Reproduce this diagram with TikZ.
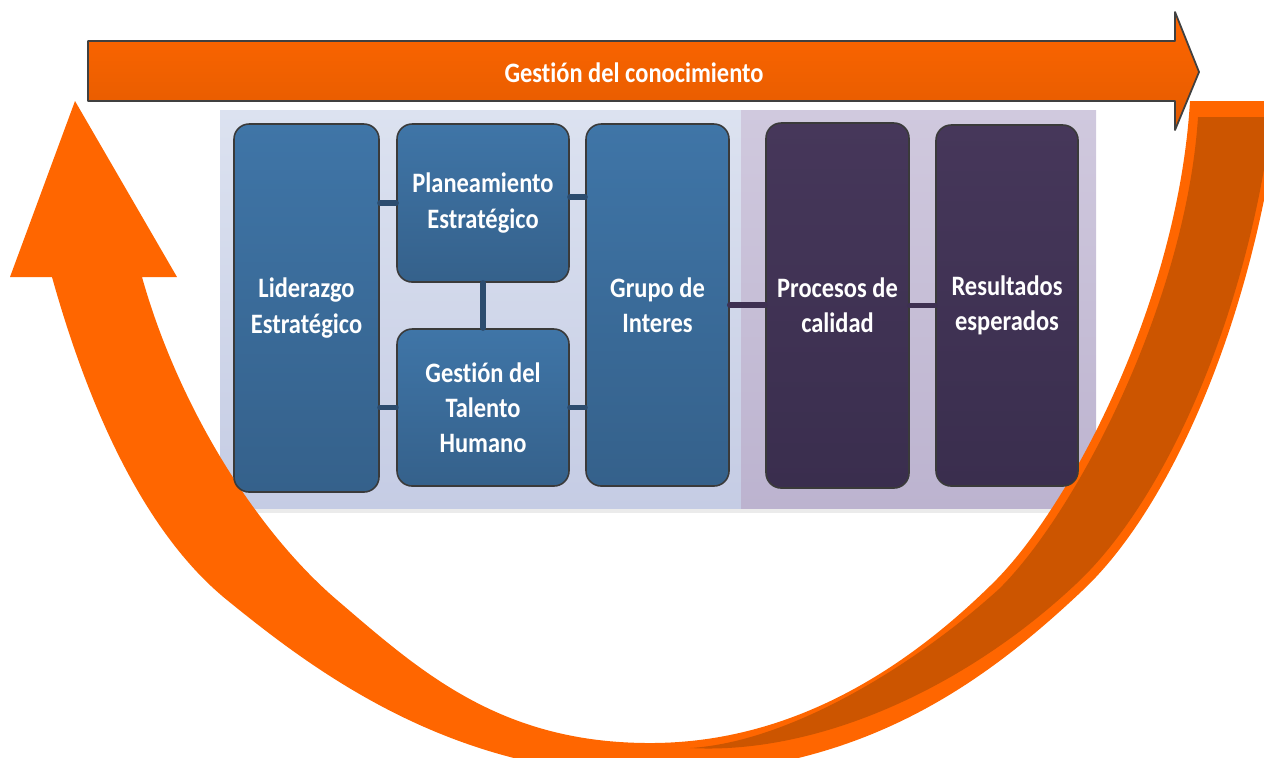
\documentclass[tikz,border=0pt]{standalone}
\usepackage{fontspec}
\setmainfont{Carlito}[FakeStretch=0.87,RawFeature={-liga;-clig;-dlig;-calt}]
\definecolor{bandorange}{HTML}{FF6600}
\definecolor{banddark}{HTML}{CC5500}
\definecolor{arrowtop}{HTML}{FF6600}
\definecolor{arrowbot}{HTML}{E35B00}
\definecolor{arrowline}{HTML}{404040}
\definecolor{paneltop}{HTML}{DCE2F0}
\definecolor{panelbot}{HTML}{C5CCE4}
\definecolor{lavtop}{HTML}{D0C9DE}
\definecolor{lavbot}{HTML}{BCB3CF}
\definecolor{bluetop}{HTML}{3F75A7}
\definecolor{bluebot}{HTML}{35618B}
\definecolor{purptop}{HTML}{46375A}
\definecolor{purpbot}{HTML}{3A2E4E}
\definecolor{boxline}{HTML}{3A3A3A}
\definecolor{linkblue}{HTML}{2C4C6E}
\definecolor{linkpurple}{HTML}{3E3052}
\begin{document}
\begin{tikzpicture}[x=0.1mm,y=-0.1mm,line join=round,line cap=round,
    boxtext/.style={text=white,font=\bfseries\fontsize{8}{10}\selectfont,align=center},
    bluebox/.style={boxtext,draw=boxline,line width=0.45pt,rounded corners=4.3pt,
        top color=bluetop,bottom color=bluebot,inner sep=0pt},
    purplebox/.style={bluebox,top color=purptop,bottom color=purpbot},
    bluelink/.style={draw=linkblue,line width=1.5pt},
    purplelink/.style={draw=linkpurple,line width=1.6pt}]
    \clip (0,0) rectangle (1264,757);
    % panel behind the boxes
    \shade[top color=paneltop,bottom color=panelbot] (220,110) rectangle (741,509);
    \shade[top color=lavtop,bottom color=lavbot] (741,110) rectangle (1096,509);
    \fill[black!8] (222,509) rectangle (1098,513);
    % curved arrow
    \fill[bandorange] (10,277) -- (75,101) -- (177,277) -- (142,277)
      .. controls (177,402) and (253,528) .. (337,600)
      .. controls (421,672) and (500,743) .. (650,743)
      .. controls (800,743) and (915,660) .. (993,583)
      .. controls (1071,506) and (1178,301) .. (1190,101)
      -- (1280,101)
      .. controls (1254,319) and (1171,507) .. (1083,590)
      .. controls (973,694) and (850,775) .. (650,775)
      .. controls (450,775) and (312,669) .. (227,600)
      .. controls (142,531) and (87,402) .. (52,277) -- cycle;
    \fill[banddark] (1198,117) -- (1272,117)
      .. controls (1246,319) and (1165,500) .. (1077,583)
      .. controls (968,686) and (820,755) .. (690,748)
      .. controls (790,742) and (915,665) .. (999,589)
      .. controls (1077,512) and (1186,301) .. (1198,117) -- cycle;
    % straight arrow on top
    \shadedraw[top color=arrowtop,bottom color=arrowbot,draw=arrowline,line width=0.5pt]
      (88,41) -- (1175,41) -- (1175,12) -- (1199,72) -- (1175,130) -- (1175,101) -- (88,101) -- cycle;
    \node[boxtext] (title) at (634,73) {Gestión del conocimiento};
    % boxes
    \node[bluebox,minimum width=14.5mm,minimum height=36.8mm] (lid) at (306.5,308) {Liderazgo\\Estratégico};
    \node[bluebox,minimum width=17.2mm,minimum height=15.8mm] (pla) at (483,203) {Planeamiento\\Estratégico};
    \node[bluebox,minimum width=17.2mm,minimum height=15.7mm] (ges) at (483,407.5) {Gestión del\\Talento\\Humano};
    \node[bluebox,minimum width=14.3mm,minimum height=36.2mm] (gru) at (657.5,305) {Grupo de\\Interes};
    \node[purplebox,minimum width=14.3mm,minimum height=36.5mm] (pro) at (837.5,305.5) {Procesos de\\calidad};
    \node[purplebox,minimum width=14.2mm,minimum height=36.1mm] (res) at (1007,305.5) {Resultados\\esperados};
    % connectors
    \draw[bluelink] (pla.west) -- (pla.west -| lid.east);
    \draw[bluelink] (ges.west) -- (ges.west -| lid.east);
    \draw[bluelink] ([yshift=0.6mm]pla.east) -- ([yshift=0.6mm]pla.east -| gru.west);
    \draw[bluelink] (ges.east) -- (ges.east -| gru.west);
    \draw[bluelink] (pla.south) -- (ges.north);
    \draw[purplelink] (gru.east) -- (gru.east -| pro.west);
    \draw[purplelink] (pro.east) -- (res.west);
\end{tikzpicture}
\end{document}
